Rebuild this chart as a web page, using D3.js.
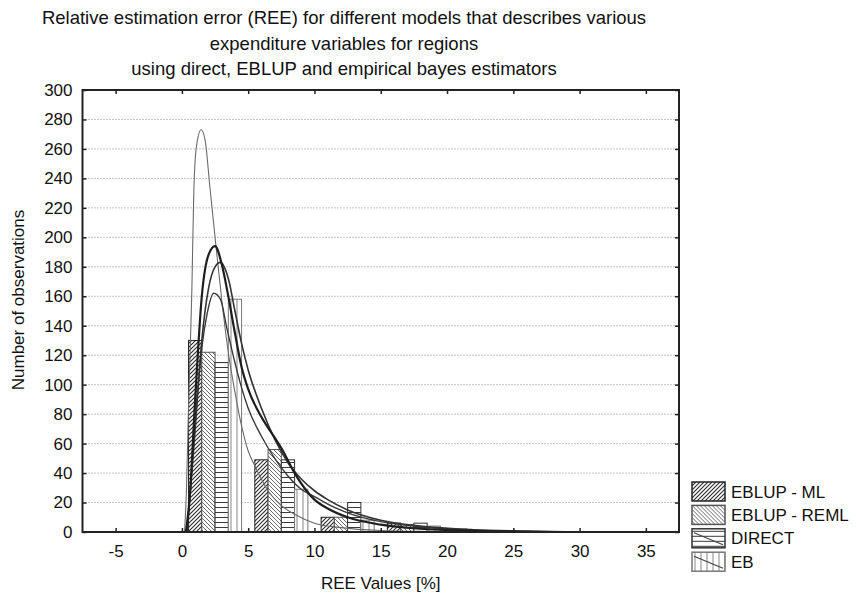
<!DOCTYPE html>
<html>
<head>
<meta charset="utf-8">
<script src="https://cdn.jsdelivr.net/npm/d3@7"></script>
<style>
  body { margin: 0; background: #fff; }
  svg { display: block; font-family: "Liberation Sans", Arial, sans-serif; }
</style>
</head>
<body>
<div id="chart"></div>
<script>
// Class lower edges (each class is 5 % wide)
const binStarts = [0, 5, 10, 15, 20];
const seriesNames = ["EBLUP - ML", "EBLUP - REML", "DIRECT", "EB"];

// Counts per class
const eblupML = [130, 49, 10, 6, 2];
const eblupREML = [122, 56, 10, 5, 1];
const directVals = [115, 49, 20, 6, 1];
const ebVals = [158, 29, 8, 4, 0];

// Fitted curves
const fitEBx = [0.2, 0.35, 0.5, 0.75, 0.9, 1.1, 1.45, 1.75, 2.1, 2.5, 3.0, 3.5, 4.0, 4.5, 5.0, 5.5, 6.5, 7.5, 8.5, 10, 12, 15, 18, 22];
const fitEBy = [0, 31, 85, 164, 232, 262, 273, 266, 235, 200, 158, 122, 95, 72, 55, 45, 28, 18, 12, 6, 3, 1, 0.4, 0];

const fitMLx = [0.3, 0.6, 1.0, 1.5, 2.0, 2.5, 3.0, 3.5, 4.0, 4.5, 5.0, 6.0, 7.0, 7.5, 8.5, 10, 11, 12.5, 15, 18, 22, 26, 29];
const fitMLy = [0, 25, 90, 160, 188, 194, 182, 160, 135, 112, 97, 78, 64, 57, 40, 22, 16, 10, 5, 2.2, 0.8, 0.3, 0];

const fitREMLx = [0.4, 1.0, 1.5, 2.0, 2.5, 2.9, 3.5, 4.0, 4.5, 5.0, 6.0, 7.0, 8.0, 9.0, 10, 11, 12.5, 15, 18, 22, 26, 29];
const fitREMLy = [0, 70, 130, 165, 180, 183, 172, 150, 128, 110, 84, 63, 47, 36, 28, 22, 15, 8, 4, 1.5, 0.5, 0];

const fitDirectx = [0.4, 1.0, 1.5, 1.9, 2.4, 2.9, 3.4, 4.0, 4.5, 5.0, 6.0, 7.0, 8.0, 9.0, 10, 11, 12.5, 15, 18, 22, 26, 29];
const fitDirecty = [0, 75, 125, 148, 162, 158, 138, 115, 98, 84, 65, 50, 38, 29, 24, 19, 13, 7, 3.5, 1.2, 0.3, 0];

const xTicks = [-5, 0, 5, 10, 15, 20, 25, 30, 35];
const yTicks = d3.range(0, 301, 20);

const titleLines = [
  "Relative estimation error (REE) for different models that describes various",
  "expenditure variables for regions",
  "using direct, EBLUP and empirical bayes estimators",
];

const width = 856, height = 595;
const plot = { left: 82.5, right: 679, top: 90, bottom: 532 };

const svg = d3.select("#chart").append("svg")
  .attr("width", width)
  .attr("height", height);

svg.append("rect").attr("width", width).attr("height", height).attr("fill", "#fff");

const x = d3.scaleLinear().domain([-7.5, 37.5]).range([plot.left, plot.right]);
const y = d3.scaleLinear().domain([0, 300]).range([plot.bottom, plot.top]);

// hatch patterns
const defs = svg.append("defs");
function hatch(id, size, d, stroke, sw) {
  const p = defs.append("pattern")
    .attr("id", id)
    .attr("patternUnits", "userSpaceOnUse")
    .attr("width", size)
    .attr("height", size);
  p.append("rect").attr("width", size).attr("height", size).attr("fill", "#fff");
  p.append("path").attr("d", d).attr("stroke", stroke).attr("stroke-width", sw).attr("fill", "none");
}
hatch("pML", 4, "M-1,1 L1,-1 M0,4 L4,0 M3,5 L5,3", "#2a2a2a", 1.1);
hatch("pREML", 4, "M-1,3 L1,5 M0,0 L4,4 M3,-1 L5,1", "#6a6a6a", 1);
hatch("pDIRECT", 5, "M0,2.5 H5", "#3a3a3a", 1);
hatch("pEB", 6, "M3,0 V6", "#888", 1);

const fills = ["url(#pML)", "url(#pREML)", "url(#pDIRECT)", "url(#pEB)"];
const outlines = ["#222", "#555", "#333", "#777"];
const series = [eblupML, eblupREML, directVals, ebVals];

// gridlines
svg.append("g")
  .selectAll("line")
  .data(yTicks.filter((v) => v > 0 && v < 300))
  .join("line")
  .attr("x1", plot.left)
  .attr("x2", plot.right)
  .attr("y1", (d) => y(d))
  .attr("y2", (d) => y(d))
  .attr("stroke", "#8a8a8a")
  .attr("stroke-width", 1)
  .attr("stroke-dasharray", "1,2");

// bars: four 1-unit bars inside each 5-unit class
const bars = svg.append("g");
series.forEach((vals, s) => {
  bars.append("g")
    .selectAll("rect")
    .data(binStarts.map((b, i) => ({ b, v: vals[i] })).filter((d) => d.v > 0))
    .join("rect")
    .attr("x", (d) => x(d.b + 0.5 + s))
    .attr("width", (d) => x(d.b + 1.5 + s) - x(d.b + 0.5 + s))
    .attr("y", (d) => y(d.v))
    .attr("height", (d) => y(0) - y(d.v))
    .attr("fill", fills[s])
    .attr("stroke", outlines[s])
    .attr("stroke-width", 1);
});

// fitted curves
svg.append("clipPath").attr("id", "clip")
  .append("rect")
  .attr("x", plot.left).attr("y", plot.top)
  .attr("width", plot.right - plot.left).attr("height", plot.bottom - plot.top);

const line = d3.line()
  .x((d) => x(d[0]))
  .y((d) => y(d[1]))
  .curve(d3.curveMonotoneX);

const curves = [
  { xs: fitEBx, ys: fitEBy, color: "#6a6a6a", w: 1.1 },
  { xs: fitDirectx, ys: fitDirecty, color: "#3a3a3a", w: 1.4 },
  { xs: fitREMLx, ys: fitREMLy, color: "#333", w: 1.6 },
  { xs: fitMLx, ys: fitMLy, color: "#1e1e1e", w: 2.2 },
];
const curveG = svg.append("g").attr("clip-path", "url(#clip)");
curves.forEach((c) => {
  curveG.append("path")
    .datum(c.xs.map((v, i) => [v, c.ys[i]]))
    .attr("d", line)
    .attr("fill", "none")
    .attr("stroke", c.color)
    .attr("stroke-width", c.w);
});

// axes (plain hyphen for negative labels, as in the original)
const fmt = (d) => String(d);
const axisFont = 17;
const gx = svg.append("g")
  .attr("transform", `translate(0,${plot.bottom})`)
  .call(d3.axisBottom(x).tickValues(xTicks).tickFormat(fmt).tickSize(-4).tickPadding(13));
const gy = svg.append("g")
  .attr("transform", `translate(${plot.left},0)`)
  .call(d3.axisLeft(y).tickValues(yTicks).tickFormat(fmt).tickSize(-4).tickPadding(10));
const gt = svg.append("g")
  .attr("transform", `translate(0,${plot.top})`)
  .call(d3.axisTop(x).tickValues(xTicks).tickSize(-4).tickFormat(""));
const gr = svg.append("g")
  .attr("transform", `translate(${plot.right},0)`)
  .call(d3.axisRight(y).tickValues(yTicks).tickSize(-4).tickFormat(""));

[gx, gy, gt, gr].forEach((g) => {
  g.select(".domain").remove();
  g.selectAll(".tick line").attr("stroke", "#222").attr("stroke-width", 1.5);
  g.selectAll("text")
    .attr("font-family", "'Liberation Sans', Arial, sans-serif")
    .attr("font-size", axisFont)
    .attr("fill", "#111");
});

// frame
svg.append("rect")
  .attr("x", plot.left)
  .attr("y", plot.top)
  .attr("width", plot.right - plot.left)
  .attr("height", plot.bottom - plot.top)
  .attr("fill", "none")
  .attr("stroke", "#222")
  .attr("stroke-width", 2);

// title
svg.append("g")
  .selectAll("text")
  .data(titleLines)
  .join("text")
  .attr("x", 344)
  .attr("y", (d, i) => 24 + i * 25.5)
  .attr("text-anchor", "middle")
  .attr("font-size", 18.5)
  .attr("fill", "#111")
  .text((d) => d);

// axis titles
svg.append("text")
  .attr("x", (plot.left + plot.right) / 2)
  .attr("y", 589)
  .attr("text-anchor", "middle")
  .attr("font-size", 17)
  .attr("fill", "#111")
  .text("REE Values [%]");

svg.append("text")
  .attr("transform", "translate(24,300) rotate(-90)")
  .attr("text-anchor", "middle")
  .attr("font-size", 17)
  .attr("fill", "#111")
  .text("Number of observations");

// legend
const legend = svg.append("g").attr("transform", "translate(692,482)");
seriesNames.forEach((name, i) => {
  const row = legend.append("g").attr("transform", `translate(0,${i * 23.4})`);
  row.append("rect")
    .attr("width", 33)
    .attr("height", 19)
    .attr("fill", fills[i])
    .attr("stroke", outlines[i])
    .attr("stroke-width", 1.5);
  if (i >= 2) {
    row.append("line")
      .attr("x1", 2).attr("y1", 4).attr("x2", 31).attr("y2", 16)
      .attr("stroke", "#444").attr("stroke-width", 1.2);
  }
  row.append("text")
    .attr("x", 39)
    .attr("y", 9.5)
    .attr("dy", "0.36em")
    .attr("font-size", 17)
    .attr("fill", "#111")
    .text(name);
});
</script>
</body>
</html>
